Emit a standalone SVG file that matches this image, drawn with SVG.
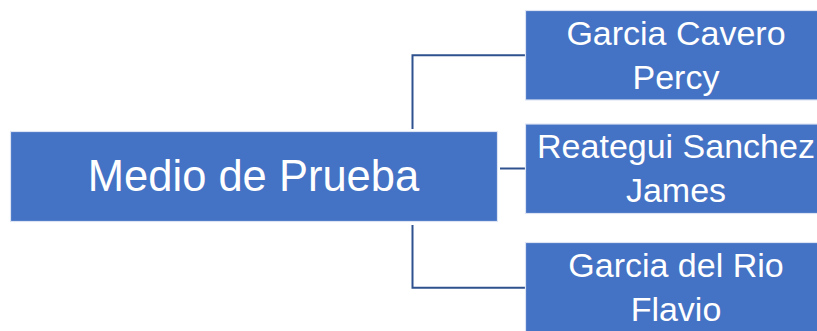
<svg xmlns="http://www.w3.org/2000/svg" width="817" height="331" viewBox="0 0 817 331">
<style>
.box{fill:#4472C4;stroke:#DCE4F3;stroke-width:1.2}
.t{fill:#fff;font-family:"Liberation Sans","Open Sans",Arial,sans-serif;text-anchor:middle}
.c{font-size:34px}
.r{font-size:43.5px}
.ln{fill:none;stroke:#2F528F;stroke-width:2}
</style>
<rect width="817" height="331" fill="#fff"/>
<g id="connectors">
<path class="ln" d="M412.5,129 V55.3 H525"/>
<path class="ln" d="M500,168.5 H525"/>
<path class="ln" d="M412.5,225 V287.7 H525"/>
</g>
<g id="root">
<rect class="box" x="10.5" y="131.5" width="487" height="90"/>
<text class="t r" x="253.5" y="191">Medio de Prueba</text>
</g>
<g id="n1">
<rect class="box" x="525.5" y="10.5" width="302" height="89.5"/>
<text class="t c" x="676" y="44.5">Garcia Cavero</text>
<text class="t c" x="676" y="89">Percy</text>
</g>
<g id="n2">
<rect class="box" x="525.5" y="124" width="302" height="89.5"/>
<text class="t c" x="676" y="157.7">Reategui Sanchez</text>
<text class="t c" x="676" y="201.7">James</text>
</g>
<g id="n3">
<rect class="box" x="525.5" y="242.5" width="302" height="89.5"/>
<text class="t c" x="676" y="276.5">Garcia del Rio</text>
<text class="t c" x="676" y="320.5">Flavio</text>
</g>
</svg>
